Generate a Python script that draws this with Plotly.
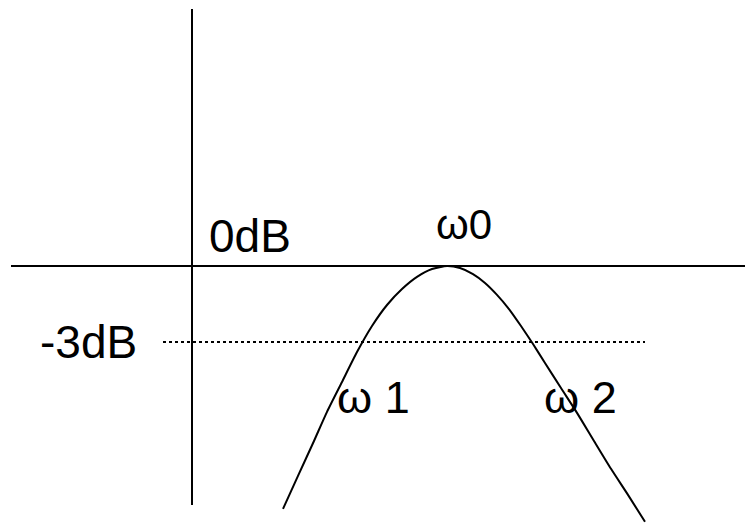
import plotly.graph_objects as go

# response curve, x in frequency units (axis at 0), y in dB
curve_x = [9.1, 10.6, 12.2, 13.5, 15.0, 16.5, 18.0, 19.5, 21.0, 22.5, 24.0, 25.5,
           26.8, 28.1, 29.3, 30.5, 31.7, 32.9, 34.1, 35.3, 36.9, 38.5, 40.2,
           41.9, 43.6, 45.3]
curve_db = [-9.59, -8.29, -6.91, -5.76, -4.58, -3.40, -2.37, -1.54, -0.91, -0.43, -0.12, 0.0,
            -0.08, -0.32, -0.67, -1.14, -1.70, -2.37, -3.08, -3.83, -4.82, -5.80, -6.91,
            -8.01, -9.04, -10.1]

# axes of the sketch
h_axis_x = [-18.1, 56.1]
h_axis_db = [0, 0]
v_axis_x = [0, 0]
v_axis_db = [10.15, -9.44]

# -3 dB reference line
ref_x = [-2.9, 45.3]
ref_db = [-3, -3]

labels = ["0dB", "-3dB", "ω0", "ω 1", "ω 2", "("]
label_x = [1.5, -5.3, 24.2, 14.3, 35.0, 55.6]
label_db = [1.2, -3.0, 1.62, -5.2, -5.2, 9.79]
label_anchor = ["left", "right", "left", "left", "left", "left"]
label_size = [46, 46, 42, 45, 45, 30]

line_style = dict(color='black', width=2)

fig = go.Figure()
fig.add_trace(go.Scatter(x=h_axis_x, y=h_axis_db, mode='lines', line=line_style))
fig.add_trace(go.Scatter(x=v_axis_x, y=v_axis_db, mode='lines', line=line_style))
fig.add_trace(go.Scatter(x=ref_x, y=ref_db, mode='lines',
                         line=dict(color='black', width=2, dash='dot')))
fig.add_trace(go.Scatter(x=curve_x, y=curve_db, mode='lines',
                         line=dict(color='black', width=2, shape='spline', smoothing=0.6)))

for txt, lx, ly, anc, sz in zip(labels, label_x, label_db, label_anchor, label_size):
    fig.add_annotation(x=lx, y=ly, text=txt, showarrow=False,
                       xanchor=anc, yanchor='middle',
                       font=dict(family='Liberation Sans, Arial', size=sz, color='black'))

# page body adds an 8px margin, so the figure is 8px smaller and the ranges start 8px in
fig.update_layout(
    width=745, height=515,
    margin=dict(l=0, r=0, t=0, b=0),
    paper_bgcolor='white', plot_bgcolor='white',
    showlegend=False,
)
fig.update_xaxes(range=[-18.4, 56.1], visible=False)
fig.update_yaxes(range=[-10.15, 10.19], visible=False)

fig.write_html("out.html")
